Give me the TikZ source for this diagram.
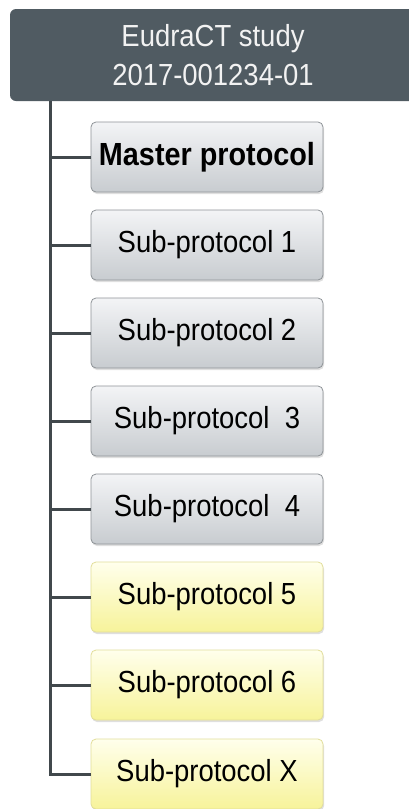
\documentclass[tikz,border=0pt]{standalone}
\usepackage{fontspec}
\setmainfont[FakeStretch=0.9]{Liberation Sans}
\usetikzlibrary{shadows}
\definecolor{topfill}{HTML}{505B62}
\definecolor{toptext}{HTML}{F2F2F2}
\definecolor{spinecol}{HTML}{41484C}
\definecolor{graytop}{HTML}{F3F4F6}
\definecolor{graybot}{HTML}{C8CCD0}
\definecolor{grayedge}{HTML}{8E9397}
\definecolor{yeltop}{HTML}{FFFFEC}
\definecolor{yelbot}{HTML}{F7F39A}
\definecolor{yeledge}{HTML}{E2DE9A}
\tikzset{
  topbox/.style={draw=none, fill=topfill, rounded corners=6pt, text=toptext,
    minimum width=406pt, minimum height=92pt, inner sep=0pt,
    align=center, font=\fontsize{30.5}{39}\selectfont},
  childbox/.style={rounded corners=5pt, minimum width=232pt, minimum height=70pt,
    inner sep=0pt, font=\fontsize{30.5}{36}\selectfont, line width=0.8pt,
    drop shadow={shadow xshift=1pt, shadow yshift=-2pt, opacity=0.25}},
  graybox/.style={childbox, draw=grayedge, top color=graytop, bottom color=graybot},
  yelbox/.style={childbox, draw=yeledge, top color=yeltop, bottom color=yelbot},
  link/.style={draw=spinecol, line width=3pt}
}
\begin{document}
\begin{tikzpicture}[x=1pt,y=-1pt]
\useasboundingbox (0,0) rectangle (409,809);
\fill[white] (0,0) rectangle (409,809);
\node[topbox] (top) at (213,55) {EudraCT study\\2017-001234-01};
\coordinate (spine) at (50,101);
\node[graybox, font=\bfseries\fontsize{32}{36}\selectfont] (m) at (207,157) {Master protocol};
\node[graybox] (s1) at (207,245) {Sub-protocol 1};
\node[graybox] (s2) at (207,333) {Sub-protocol 2};
\node[graybox] (s3) at (207,421) {Sub-protocol\ \ 3};
\node[graybox] (s4) at (207,509) {Sub-protocol\ \ 4};
\node[yelbox] (s5) at (207,597) {Sub-protocol 5};
\node[yelbox] (s6) at (207,685) {Sub-protocol 6};
\node[yelbox] (sx) at (207,774) {Sub-protocol X};
\draw[link] (spine) |- (sx.west);
\foreach \n in {m,s1,s2,s3,s4,s5,s6}{
  \draw[link] (spine |- \n.west) -- (\n.west);
}
\end{tikzpicture}
\end{document}
